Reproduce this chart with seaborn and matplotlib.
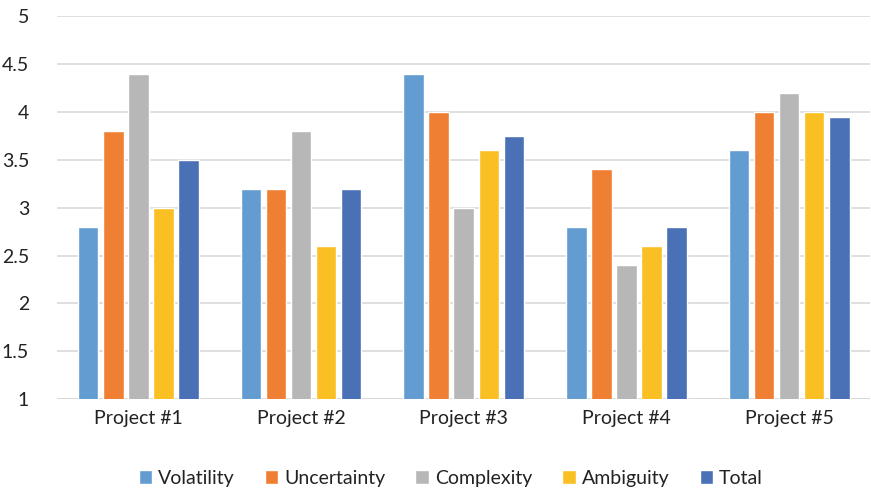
import matplotlib
matplotlib.use("Agg")
import matplotlib.pyplot as plt
import seaborn as sns
import pandas as pd

projects = ["Project #1", "Project #2", "Project #3", "Project #4", "Project #5"]
series = ["Volatility", "Uncertainty", "Complexity", "Ambiguity", "Total"]
volatility = [2.8, 3.2, 4.4, 2.8, 3.6]
uncertainty = [3.8, 3.2, 4.0, 3.4, 4.0]
complexity = [4.4, 3.8, 3.0, 2.4, 4.2]
ambiguity = [3.0, 2.6, 3.6, 2.6, 4.0]
total = [3.5, 3.2, 3.75, 2.8, 3.95]
y_ticks = [1, 1.5, 2, 2.5, 3, 3.5, 4, 4.5, 5]

colors = ["#629CD1", "#EE7F33", "#B7B7B7", "#FABF22", "#4A71B6"]

rows = []
for name, vals in zip(series, [volatility, uncertainty, complexity, ambiguity, total]):
    for p, v in zip(projects, vals):
        rows.append({"Project": p, "Series": name, "Value": v})
df = pd.DataFrame(rows)

sns.set_theme(style="white")
plt.rcParams["font.family"] = ["Lato", "DejaVu Sans"]

fig = plt.figure(figsize=(8.71, 4.91), dpi=100)
ax = fig.add_axes([0.0654, 0.187, 0.934, 0.780])

sns.barplot(data=df, x="Project", y="Value", hue="Series", order=projects,
            hue_order=series, palette=colors, width=0.77, gap=0.18,
            saturation=1, ax=ax, legend=True, errorbar=None)

ax.set_ylim(1, 5)
ax.set_yticks(y_ticks)
ax.set_yticklabels([f"{t:g}" for t in y_ticks])
ax.set_xlim(-0.5, 4.5)
ax.set_xlabel("")
ax.set_ylabel("")
ax.grid(axis="y", color="#D9D9D9", linewidth=1.2)
ax.set_axisbelow(True)
for s in ax.spines.values():
    s.set_visible(False)
ax.axhline(1, color="#D0D0D0", linewidth=1.3, zorder=0.5)
ax.tick_params(axis="both", length=0, labelsize=14, colors="#222222")
ax.tick_params(axis="y", pad=20)
ax.tick_params(axis="x", pad=8)

handles, labels = ax.get_legend_handles_labels()
ax.legend(handles, labels, loc="upper center", bbox_to_anchor=(0.484, -0.138),
          ncol=5, frameon=False, fontsize=14, handlelength=0.7, handleheight=0.7,
          handletextpad=0.3, columnspacing=1.55, labelcolor="#222222")

fig.savefig("out.png", dpi=100)
